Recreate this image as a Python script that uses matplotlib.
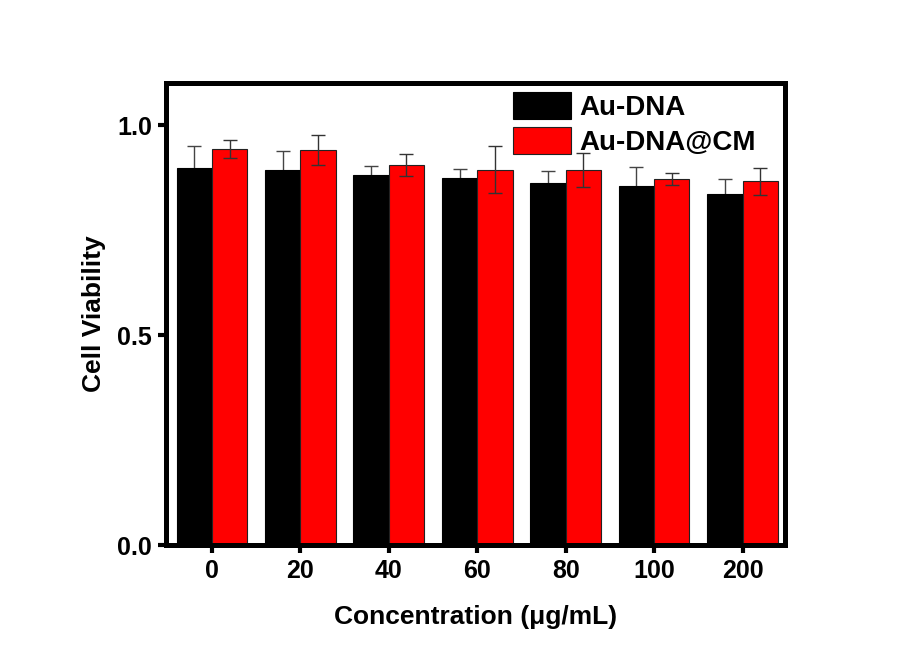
import numpy as np
import matplotlib
matplotlib.use("Agg")
import matplotlib.pyplot as plt

plt.rcParams['font.family'] = ['Liberation Sans', 'DejaVu Sans']
plt.rcParams['font.weight'] = 'bold'

# Data
concentrations = ["0", "20", "40", "60", "80", "100", "200"]
au_dna = [0.897, 0.893, 0.881, 0.875, 0.862, 0.854, 0.835]
au_dna_err = [0.052, 0.044, 0.021, 0.021, 0.028, 0.046, 0.036]
au_dna_cm = [0.943, 0.940, 0.905, 0.893, 0.893, 0.871, 0.866]
au_dna_cm_err = [0.021, 0.036, 0.026, 0.056, 0.040, 0.014, 0.032]

fig = plt.figure(figsize=(9, 6.46), dpi=100)
ax = fig.add_axes([0.1844, 0.1563, 0.8722 - 0.1844, 0.8715 - 0.1563])

x = np.arange(len(concentrations))
w = 0.4
# error bars of the black series sit behind the bars (only the upper half shows)
errBlack = dict(ecolor="#444444", elinewidth=1.0, capsize=5, capthick=1.0, zorder=0.5)
errRed = dict(ecolor="#333333", elinewidth=1.0, capsize=5, capthick=1.0, zorder=3)

ax.bar(x - w / 2, au_dna, w, color="black", edgecolor="black", linewidth=0.8,
       yerr=au_dna_err, error_kw=errBlack, label="Au-DNA", zorder=2)
ax.bar(x + w / 2, au_dna_cm, w, color="#FF0000", edgecolor="#222222", linewidth=0.8,
       yerr=au_dna_cm_err, error_kw=errRed, label="Au-DNA@CM", zorder=2)

ax.set_xlim(-0.52, 6.48)
ax.set_ylim(0, 1.10)
ax.set_xticks(x)
ax.set_xticklabels(concentrations)
ax.set_yticks([0.0, 0.5, 1.0])
ax.set_yticklabels(["0.0", "0.5", "1.0"])

for s in ax.spines.values():
    s.set_linewidth(3.6)
    s.set_zorder(4)
ax.tick_params(axis='both', direction='out', length=6, width=3, labelsize=18, pad=4)

ax.set_xlabel("Concentration (μg/mL)", fontsize=19, fontweight='bold', labelpad=16)
ax.set_ylabel("Cell Viability", fontsize=19, fontweight='bold', labelpad=8)

ax.legend(loc='upper left', bbox_to_anchor=(0.5606, 0.9805), frameon=False,
          borderpad=0, borderaxespad=0, fontsize=20, handlelength=2.1,
          handleheight=1.1, labelspacing=0.22, handletextpad=0.3)

fig.savefig("out.png", dpi=100, facecolor="white")
